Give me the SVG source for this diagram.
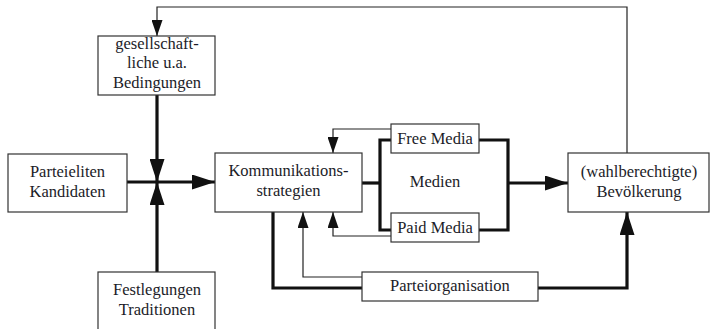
<svg xmlns="http://www.w3.org/2000/svg" width="712" height="329" viewBox="0 0 712 329">
<defs>
<style>
.box{fill:#fff;stroke:#333;stroke-width:1.2}
.t{font-family:"Liberation Serif","Times New Roman",serif;font-size:16.5px;fill:#1c1c28;text-anchor:middle}
.thin{fill:none;stroke:#222;stroke-width:1.2}
.thick{fill:none;stroke:#111;stroke-width:3.2}
</style>
<marker id="ah" markerUnits="userSpaceOnUse" markerWidth="16" markerHeight="11" refX="16" refY="5.5" orient="auto"><path d="M0,0 L16,5.5 L0,11 Z" fill="#111"/></marker>
<marker id="AH" markerUnits="userSpaceOnUse" markerWidth="23" markerHeight="15" refX="23" refY="7.5" orient="auto"><path d="M0,0 L23,7.5 L0,15 Z" fill="#111"/></marker>
</defs>
<g id="connectors">
<polyline class="thin" points="627,153 627,7 157,7 157,36" marker-end="url(#ah)"/>
<line class="thick" x1="157" y1="95" x2="157" y2="182" marker-end="url(#AH)"/>
<line class="thick" x1="157" y1="272" x2="157" y2="182" marker-end="url(#AH)"/>
<line class="thick" x1="127" y1="182" x2="215" y2="182" marker-end="url(#AH)"/>
<polyline class="thin" points="391,129 333,129 333,153" marker-end="url(#ah)"/>
<line class="thick" x1="362" y1="183" x2="380" y2="183"/>
<polyline class="thick" points="391,140 380,140 380,230 391,230"/>
<polyline class="thick" points="479,140 508,140 508,230 479,230"/>
<line class="thick" x1="508" y1="183" x2="568" y2="183" marker-end="url(#AH)"/>
<polyline class="thin" points="391,236 333,236 333,212" marker-end="url(#ah)"/>
<polyline class="thin" points="362,277 303,277 303,212" marker-end="url(#ah)"/>
<polyline class="thick" points="273,212 273,288 362,288"/>
<polyline class="thick" points="538,288 627,288 627,212" marker-end="url(#AH)"/>
</g>
<g id="gesellschaft">
<rect class="box" x="98" y="36" width="117" height="59"/>
<text class="t" x="157" y="49">gesellschaft-</text>
<text class="t" x="157" y="68">liche u.a.</text>
<text class="t" x="157" y="88">Bedingungen</text>
</g>
<g id="parteieliten">
<rect class="box" x="8" y="154" width="119" height="58"/>
<text class="t" x="67.5" y="177">Parteieliten</text>
<text class="t" x="67.5" y="197">Kandidaten</text>
</g>
<g id="festlegungen">
<rect class="box" x="98" y="272" width="117" height="64"/>
<text class="t" x="157" y="295">Festlegungen</text>
<text class="t" x="157" y="315">Traditionen</text>
</g>
<g id="kommunikation">
<rect class="box" x="215" y="153" width="147" height="59"/>
<text class="t" x="288.5" y="176">Kommunikations-</text>
<text class="t" x="288.5" y="196">strategien</text>
</g>
<g id="freemedia">
<rect class="box" x="391" y="124" width="88" height="29"/>
<text class="t" x="435" y="144">Free Media</text>
</g>
<g id="medien">
<text class="t" x="435" y="187">Medien</text>
</g>
<g id="paidmedia">
<rect class="box" x="391" y="213" width="88" height="29"/>
<text class="t" x="435" y="233">Paid Media</text>
</g>
<g id="parteiorganisation">
<rect class="box" x="362" y="272" width="176" height="29"/>
<text class="t" x="450" y="291">Parteiorganisation</text>
</g>
<g id="bevoelkerung">
<rect class="box" x="568" y="153" width="141" height="59"/>
<text class="t" x="639" y="177">(wahlberechtigte)</text>
<text class="t" x="639" y="197">Bevölkerung</text>
</g>
</svg>
